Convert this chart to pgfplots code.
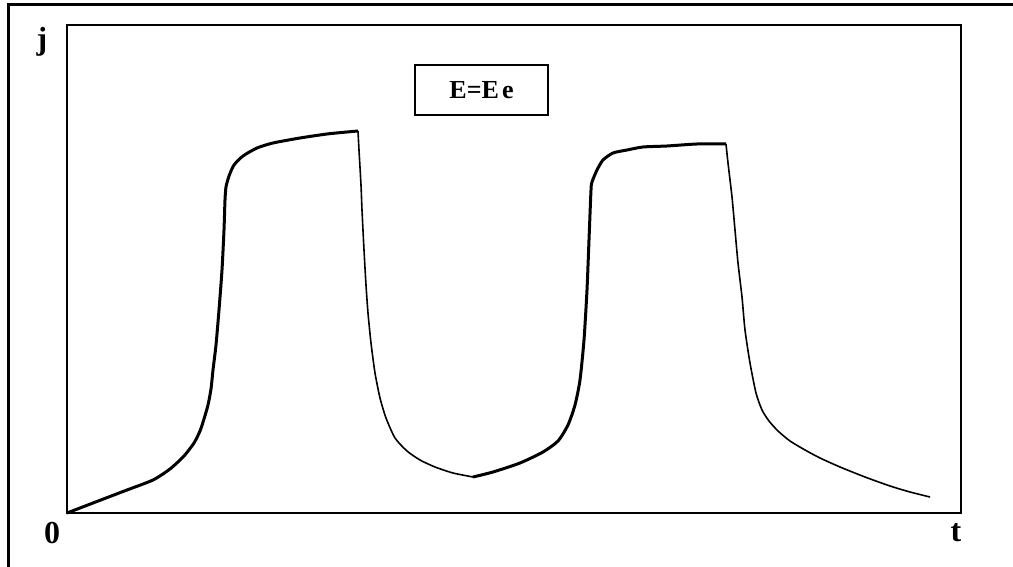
\documentclass[border=0pt]{standalone}
\usepackage{pgfplots}
\pgfplotsset{compat=1.18}
\usepackage{fontspec}
\setmainfont{Liberation Serif}

% current density j(t) during two pulses at E = Ee
% rising branches and plateaus
\pgfplotstableread{
t j
67 0
93 10
127 23
153 33
170 44
184 57
194 70
200 82
204 94
208 108
211 124
213 143
216 168
219 203
222 243
224 283
225 313
226 326
229 337
234 348
243 357
257 365
273 370
300 375
327 379
347 381
358 382
}\riseA
\pgfplotstableread{
t j
358 382
359 363
361 328
362 303
364 263
366 228
368 200
371 170
375 140
380 115
386 95
395 75
407 62
420 53
435 46
453 40
473 36
}\fallA
\pgfplotstableread{
t j
473 36
493 41
520 50
543 61
558 72
568 88
575 108
580 133
584 173
587 223
589 273
591 323
592 331
597 343
603 353
613 360
627 363
643 366
667 367
697 369
726 369
}\riseB
\pgfplotstableread{
t j
726 369
728 350
732 316
735 283
738 250
742 216
745 183
750 150
756 120
762 103
769 92
778 82
790 72
805 63
820 55
840 46
865 36
890 27
910 21
930 16
}\fallB

\begin{document}
\begin{tikzpicture}
\path[use as bounding box] (0,0) rectangle (506.5pt,283.5pt);
% outer frame
\draw[line width=1.4pt] (4.35pt,0) -- (4.35pt,281.15pt) -- (506.5pt,281.15pt);
\begin{axis}[
  at={(33.5pt,27pt)}, anchor=south west,
  scale only axis, width=447pt, height=244pt,
  xmin=67, xmax=961, ymin=0, ymax=488,
  xtick=\empty, ytick=\empty,
  axis line style={line width=1.4pt},
  clip=false,
]
\addplot[black, line width=1.5pt, line join=round, smooth, tension=0.4] table[x=t,y=j] {\riseA};
\addplot[black, line width=0.8pt, line join=round, smooth, tension=0.4] table[x=t,y=j] {\fallA};
\addplot[black, line width=1.5pt, line join=round, smooth, tension=0.4] table[x=t,y=j] {\riseB};
\addplot[black, line width=0.8pt, line join=round, smooth, tension=0.4] table[x=t,y=j] {\fallB};
\end{axis}
\node[font=\fontsize{16}{18}\selectfont\bfseries] at (21pt,262.5pt) {j};
\node[font=\fontsize{16}{18}\selectfont\bfseries] at (26pt,17pt) {0};
\node[font=\fontsize{16}{18}\selectfont\bfseries] at (478pt,17pt) {t};
\draw[line width=0.6pt] (207.5pt,226pt) rectangle (274pt,251pt);
\node[font=\fontsize{13}{15}\selectfont\bfseries] at (240.75pt,238.5pt) {E=E\kern0.12em e};
\end{tikzpicture}
\end{document}
